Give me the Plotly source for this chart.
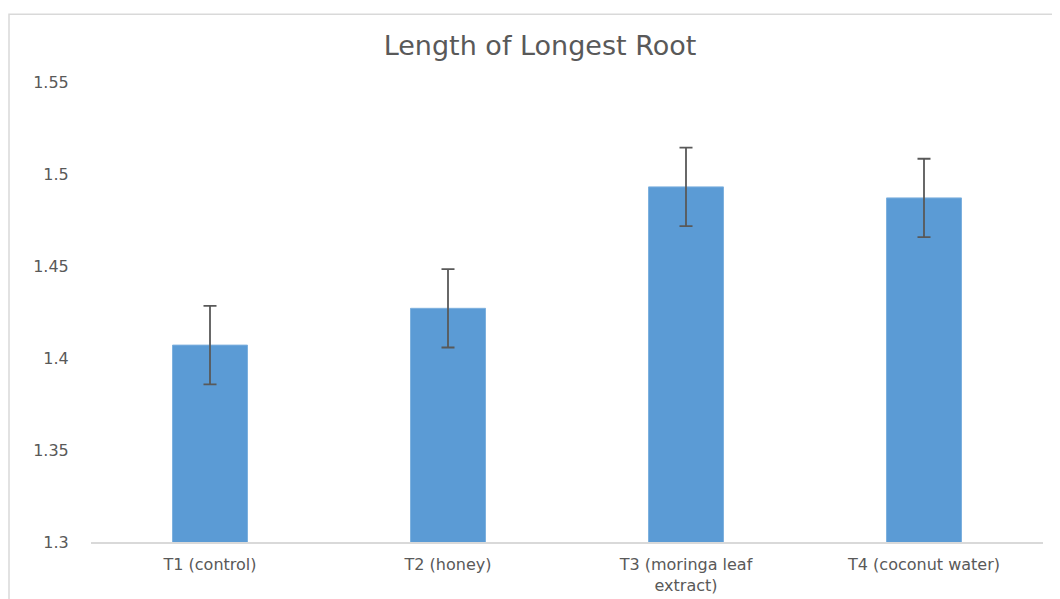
import plotly.graph_objects as go

categories = ["T1 (control)", "T2 (honey)", "T3 (moringa leaf<br>extract)", "T4 (coconut water)"]
values = [1.407, 1.427, 1.493, 1.487]
errors = [0.0213, 0.0213, 0.0213, 0.0213]
y_ticks = [1.3, 1.35, 1.4, 1.45, 1.5, 1.55]
y_tick_labels = ["1.3", "1.35", "1.4", "1.45", "1.5", "1.55"]

text_color = "#595959"
font_family = "DejaVu Sans"

# page body adds an 8px offset; margins compensate for it
L, R, T, B = 83, 25, 74, 63
PW = 1060 - L - R
PH = 599 - T - B

fig = go.Figure(
    go.Bar(
        x=categories,
        y=values,
        marker=dict(color="#5B9BD5", line=dict(color="#7DB0DE", width=1)),
        error_y=dict(type="data", array=errors, visible=True,
                     color=text_color, thickness=1.8, width=6.5),
    )
)

fig.update_layout(
    width=1060,
    height=599,
    paper_bgcolor="white",
    plot_bgcolor="white",
    margin=dict(l=L, r=R, t=T, b=B),
    bargap=0.685,
    showlegend=False,
    title=dict(text="Length of Longest Root", x=532 / 1060, xanchor="center",
               y=1 - 38 / 599, yanchor="middle",
               font=dict(family=font_family, size=27, color=text_color)),
    font=dict(family=font_family, color=text_color),
)

fig.update_xaxes(
    showline=True, linecolor="#D9D9D9", linewidth=1.5,
    showgrid=False, ticks="outside", ticklen=7, tickcolor="rgba(0,0,0,0)",
    tickfont=dict(family=font_family, size=16, color=text_color),
)
fig.update_yaxes(
    range=[1.3, 1.55], tickvals=y_ticks, ticktext=y_tick_labels,
    showline=False, showgrid=False, zeroline=False,
    ticks="outside", ticklen=18, tickcolor="rgba(0,0,0,0)",
    tickfont=dict(family=font_family, size=16, color=text_color),
)

# outer chart frame
fig.add_shape(type="rect", xref="paper", yref="paper",
              x0=(1 - L) / PW, x1=(1075 - L) / PW,
              y0=-(B + 20) / PH, y1=1 + (T - 6) / PH,
              line=dict(color="#D9D9D9", width=1.5), fillcolor="rgba(0,0,0,0)",
              layer="below")

fig.write_html("out.html")
